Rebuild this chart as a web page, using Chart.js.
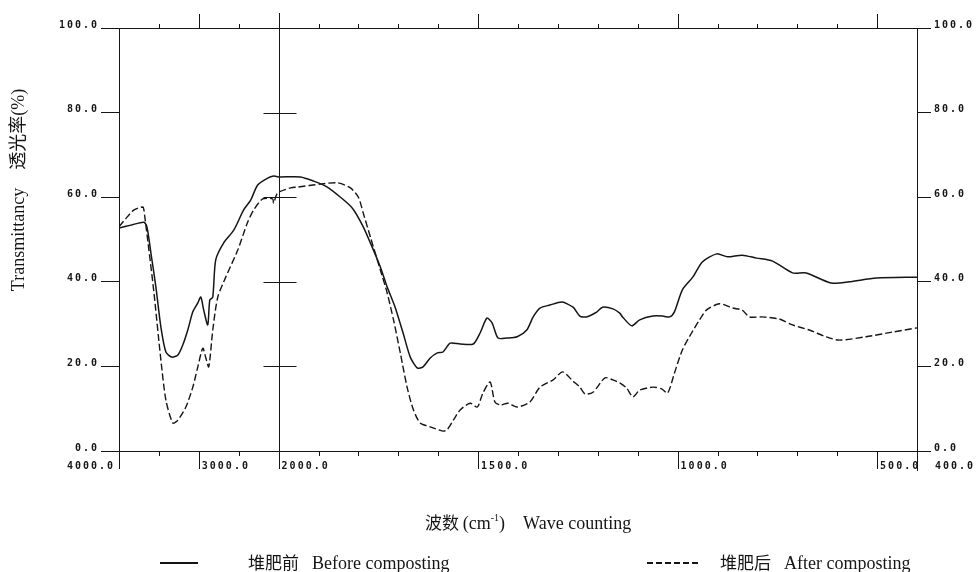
<!DOCTYPE html>
<html>
<head>
<meta charset="utf-8">
<script src="https://cdn.jsdelivr.net/npm/chart.js@4.4.1/dist/chart.umd.min.js"></script>
<style>
  html, body { margin: 0; padding: 0; background: #fff; }
  #wrap { width: 980px; height: 572px; }
</style>
</head>
<body>
<div id="wrap"><canvas id="ftir" width="980" height="572"></canvas></div>
<script>
// ======= DATA =======
// wavenumbers (cm-1) and transmittance (%)
const beforeWn = [4000,3850,3688,3650,3600,3538,3475,3412,3338,3262,3200,3138,3075,3012,2975,2938,2888,2862,2825,2788,2688,2562,2438,2350,2262,2138,2062,2000,
  1945,1912,1878,1845,1815,1790,1770,1745,1728,1708,1688,1670,1652,1638,1620,1602,1588,1570,1545,1512,1495,1478,1465,1450,1428,1402,1378,1362,1345,1320,1290,
  1262,1245,1228,1202,1188,1162,1145,1138,1115,1095,1062,1038,1020,1008,988,962,938,902,875,838,802,762,712,678,615,570,502,400];
const beforeT = [52.7,53.4,54.1,53.0,46.8,38.8,29.3,23.4,22.2,22.7,25.1,28.6,32.9,35.0,36.4,33.3,29.8,35.7,36.4,45.2,49.2,52.2,57.0,59.3,62.9,64.5,65.0,64.8,
  64.8,63.8,62.4,60.0,57.4,53.4,49.2,43.5,38.8,34.0,27.9,22.2,19.6,19.9,22.0,23.2,23.4,25.5,25.3,25.3,27.9,31.4,30.3,26.7,26.7,27.0,28.6,31.7,33.8,34.5,35.2,
  34.0,31.9,31.7,32.9,34.0,33.6,32.6,31.7,29.6,31.0,31.9,31.9,31.7,32.9,38.1,41.1,44.7,46.6,45.9,46.3,45.6,44.9,42.1,42.1,39.7,40.0,40.9,41.1];

const afterWn = [4000,3912,3812,3700,3688,3625,3562,3475,3412,3325,3262,3162,3075,3012,2950,2912,2875,2825,2762,2662,2512,2388,2312,2200,2075,2062,2012,
  1970,1952,1895,1852,1820,1800,1788,1770,1745,1728,1712,1695,1678,1662,1645,1620,1588,1578,1562,1545,1520,1502,1488,1470,1458,1445,1425,1402,1370,1345,1312,
  1288,1262,1245,1232,1212,1182,1162,1145,1128,1112,1095,1062,1040,1025,1008,988,965,945,928,895,862,838,820,788,745,712,670,628,595,528,462,400];
const afterT = [53.0,55.0,57.0,57.7,57.0,47.5,37.4,21.5,12.0,6.6,7.3,10.4,15.1,19.9,24.3,22.0,19.9,28.6,36.4,41.1,47.5,54.1,57.0,59.6,59.6,58.6,61.0,
  62.2,62.4,63.1,63.4,62.2,60.0,56.3,50.6,42.8,37.4,31.0,23.2,15.1,9.7,6.6,5.7,4.7,5.0,7.3,9.7,11.3,10.4,13.7,16.3,11.6,10.9,11.3,10.4,11.6,15.1,16.8,
  18.7,16.5,15.1,13.5,13.9,17.3,16.8,16.1,14.9,12.8,14.4,15.1,14.7,13.7,18.4,23.9,27.9,31.0,33.3,34.8,33.8,33.3,31.7,31.7,31.2,29.8,28.6,27.0,26.2,27.0,28.1,29.1];

const xTickWn = [4000,3000,2000,1500,1000,500,400];
const yTickVals = [0,20,40,60,80,100];
const crossbarVals = [20,40,60,80];

// the recorder compresses 4000-2000 and expands 2000-400 (5x)
function wnToU(wn){ return wn >= 2000 ? (4000 - wn) / 1000 : 2 + (2000 - wn) / 200; }
function toPoints(wn, t){ return wn.map((w, i) => ({ x: wnToU(w), y: t[i] })); }

const INK = "#151515";
const TICK_FONT = 'bold 10px "DejaVu Sans Mono"';
const TEXT_FONT = '18px "Liberation Serif", "Noto Sans CJK SC"';
const CJK_FONT = '17px "Noto Sans CJK SC"';

// ======= FRAME / LABELS PLUGIN =======
const framePlugin = {
  id: "frame",
  beforeDraw(chart){ chart.ctx.letterSpacing = "2px"; },
  afterDraw(chart){
    const ctx = chart.ctx, a = chart.chartArea, xs = chart.scales.x, ys = chart.scales.y;
    ctx.save();
    ctx.strokeStyle = INK; ctx.fillStyle = INK; ctx.lineWidth = 1;

    // top/bottom border, axis lines running into the label row
    ctx.beginPath();
    ctx.moveTo(a.left, a.top + 0.5); ctx.lineTo(a.right, a.top + 0.5);
    ctx.moveTo(a.left, a.bottom + 0.5); ctx.lineTo(a.right, a.bottom + 0.5);
    ctx.moveTo(a.left + 0.5, a.bottom); ctx.lineTo(a.left + 0.5, a.bottom + 18);
    ctx.moveTo(a.right + 0.5, a.bottom); ctx.lineTo(a.right + 0.5, a.bottom + 20);
    ctx.stroke();

    // scale-change line at 2000 with crossbars
    const x2000 = Math.round(xs.getPixelForValue(wnToU(2000))) + 0.5;
    ctx.beginPath();
    ctx.moveTo(x2000, a.top - 15); ctx.lineTo(x2000, a.bottom + 18);
    crossbarVals.forEach(v => {
      const y = Math.round(ys.getPixelForValue(v)) + 0.5;
      ctx.moveTo(x2000 - 16, y); ctx.lineTo(x2000 + 17, y);
    });
    ctx.stroke();

    // x ticks every 0.5 unit (500 / 100 cm-1)
    const majorU = xTickWn.map(wnToU);
    ctx.beginPath();
    for (let u = 0; u <= 10.001; u += 0.5) {
      const x = Math.round(xs.getPixelForValue(u)) + 0.5;
      const major = majorU.some(m => Math.abs(m - u) < 1e-6);
      if (u === 0 || u === 10 || Math.abs(u - 2) < 1e-6) continue;
      ctx.moveTo(x, a.top); ctx.lineTo(x, a.top - (major ? 14 : 4));
      ctx.moveTo(x, a.bottom); ctx.lineTo(x, a.bottom + (major ? 18 : 5));
    }
    ctx.stroke();

    // x tick labels
    ctx.font = TICK_FONT; ctx.textBaseline = "middle";
    xTickWn.forEach((wn, i) => {
      const x = xs.getPixelForValue(wnToU(wn));
      const txt = wn.toFixed(1);
      if (i === 0) { ctx.textAlign = "right"; ctx.fillText(txt, x - 4, a.bottom + 15); }
      else if (i === xTickWn.length - 1) { ctx.textAlign = "left"; ctx.fillText(txt, x + 18, a.bottom + 15); }
      else { ctx.textAlign = "left"; ctx.fillText(txt, x + 3, a.bottom + 15); }
    });
    ctx.letterSpacing = "0px";

    // y title
    ctx.save();
    ctx.translate(19, 190); ctx.rotate(-Math.PI / 2);
    ctx.textAlign = "center"; ctx.textBaseline = "middle"; ctx.font = TEXT_FONT;
    ctx.fillText("Transmittancy    透光率(%)", 0, 0);
    ctx.restore();

    // x title with superscript
    ctx.textBaseline = "alphabetic"; ctx.textAlign = "left";
    let tx = 425; const ty = 529;
    ctx.font = CJK_FONT; ctx.fillText("波数", tx, ty); tx += ctx.measureText("波数 ").width;
    ctx.font = TEXT_FONT; ctx.fillText("(cm", tx, ty); tx += ctx.measureText("(cm").width;
    ctx.font = '10px "Liberation Serif"'; ctx.fillText("-1", tx, ty - 8); tx += ctx.measureText("-1").width;
    ctx.font = TEXT_FONT; ctx.fillText(")    Wave counting", tx, ty);

    // legend
    const ly = 563;
    ctx.lineWidth = 1.8;
    ctx.beginPath(); ctx.moveTo(160, ly); ctx.lineTo(198, ly); ctx.stroke();
    ctx.setLineDash([6, 3]);
    ctx.beginPath(); ctx.moveTo(647, ly); ctx.lineTo(700, ly); ctx.stroke();
    ctx.setLineDash([]);
    ctx.font = CJK_FONT;
    ctx.fillText("堆肥前", 248, ly + 6);
    ctx.fillText("堆肥后", 720, ly + 6);
    ctx.font = TEXT_FONT;
    ctx.fillText("Before composting", 312, ly + 6);
    ctx.fillText("After composting", 784, ly + 6);
    ctx.restore();
  }
};

// ======= CHART =======
const yTickOpts = (pad) => ({
  min: 0, max: 100,
  ticks: { stepSize: 20, callback: v => v.toFixed(1), color: INK, padding: pad, labelOffset: -3,
    font: { family: "DejaVu Sans Mono", size: 10, weight: "bold" } },
  border: { display: true, color: INK, width: 1 },
  grid: { drawOnChartArea: false, tickColor: INK, tickWidth: 1 }
});

const yLeft = yTickOpts(2);
yLeft.position = "left"; yLeft.grid.tickLength = 18;
yLeft.afterFit = s => { s.width = 119; };
const yRight = yTickOpts(3);
yRight.position = "right"; yRight.grid.tickLength = 14;
yRight.afterFit = s => { s.width = 63; };

new Chart(document.getElementById("ftir"), {
  type: "line",
  data: {
    datasets: [
      { label: "堆肥前 Before composting", data: toPoints(beforeWn, beforeT),
        borderColor: INK, borderWidth: 1.5, pointRadius: 0, tension: 0.25, fill: false },
      { label: "堆肥后 After composting", data: toPoints(afterWn, afterT),
        borderColor: INK, borderWidth: 1.4, borderDash: [7, 3], pointRadius: 0, tension: 0.25, fill: false }
    ]
  },
  options: {
    responsive: false, animation: false, devicePixelRatio: 1,
    layout: { padding: { top: 28, bottom: 121, left: 0, right: 0 } },
    plugins: { legend: { display: false }, tooltip: { enabled: false } },
    scales: {
      x: { type: "linear", min: 0, max: 10, display: false },
      y: yLeft,
      y2: yRight
    }
  },
  plugins: [framePlugin]
});
</script>
</body>
</html>
